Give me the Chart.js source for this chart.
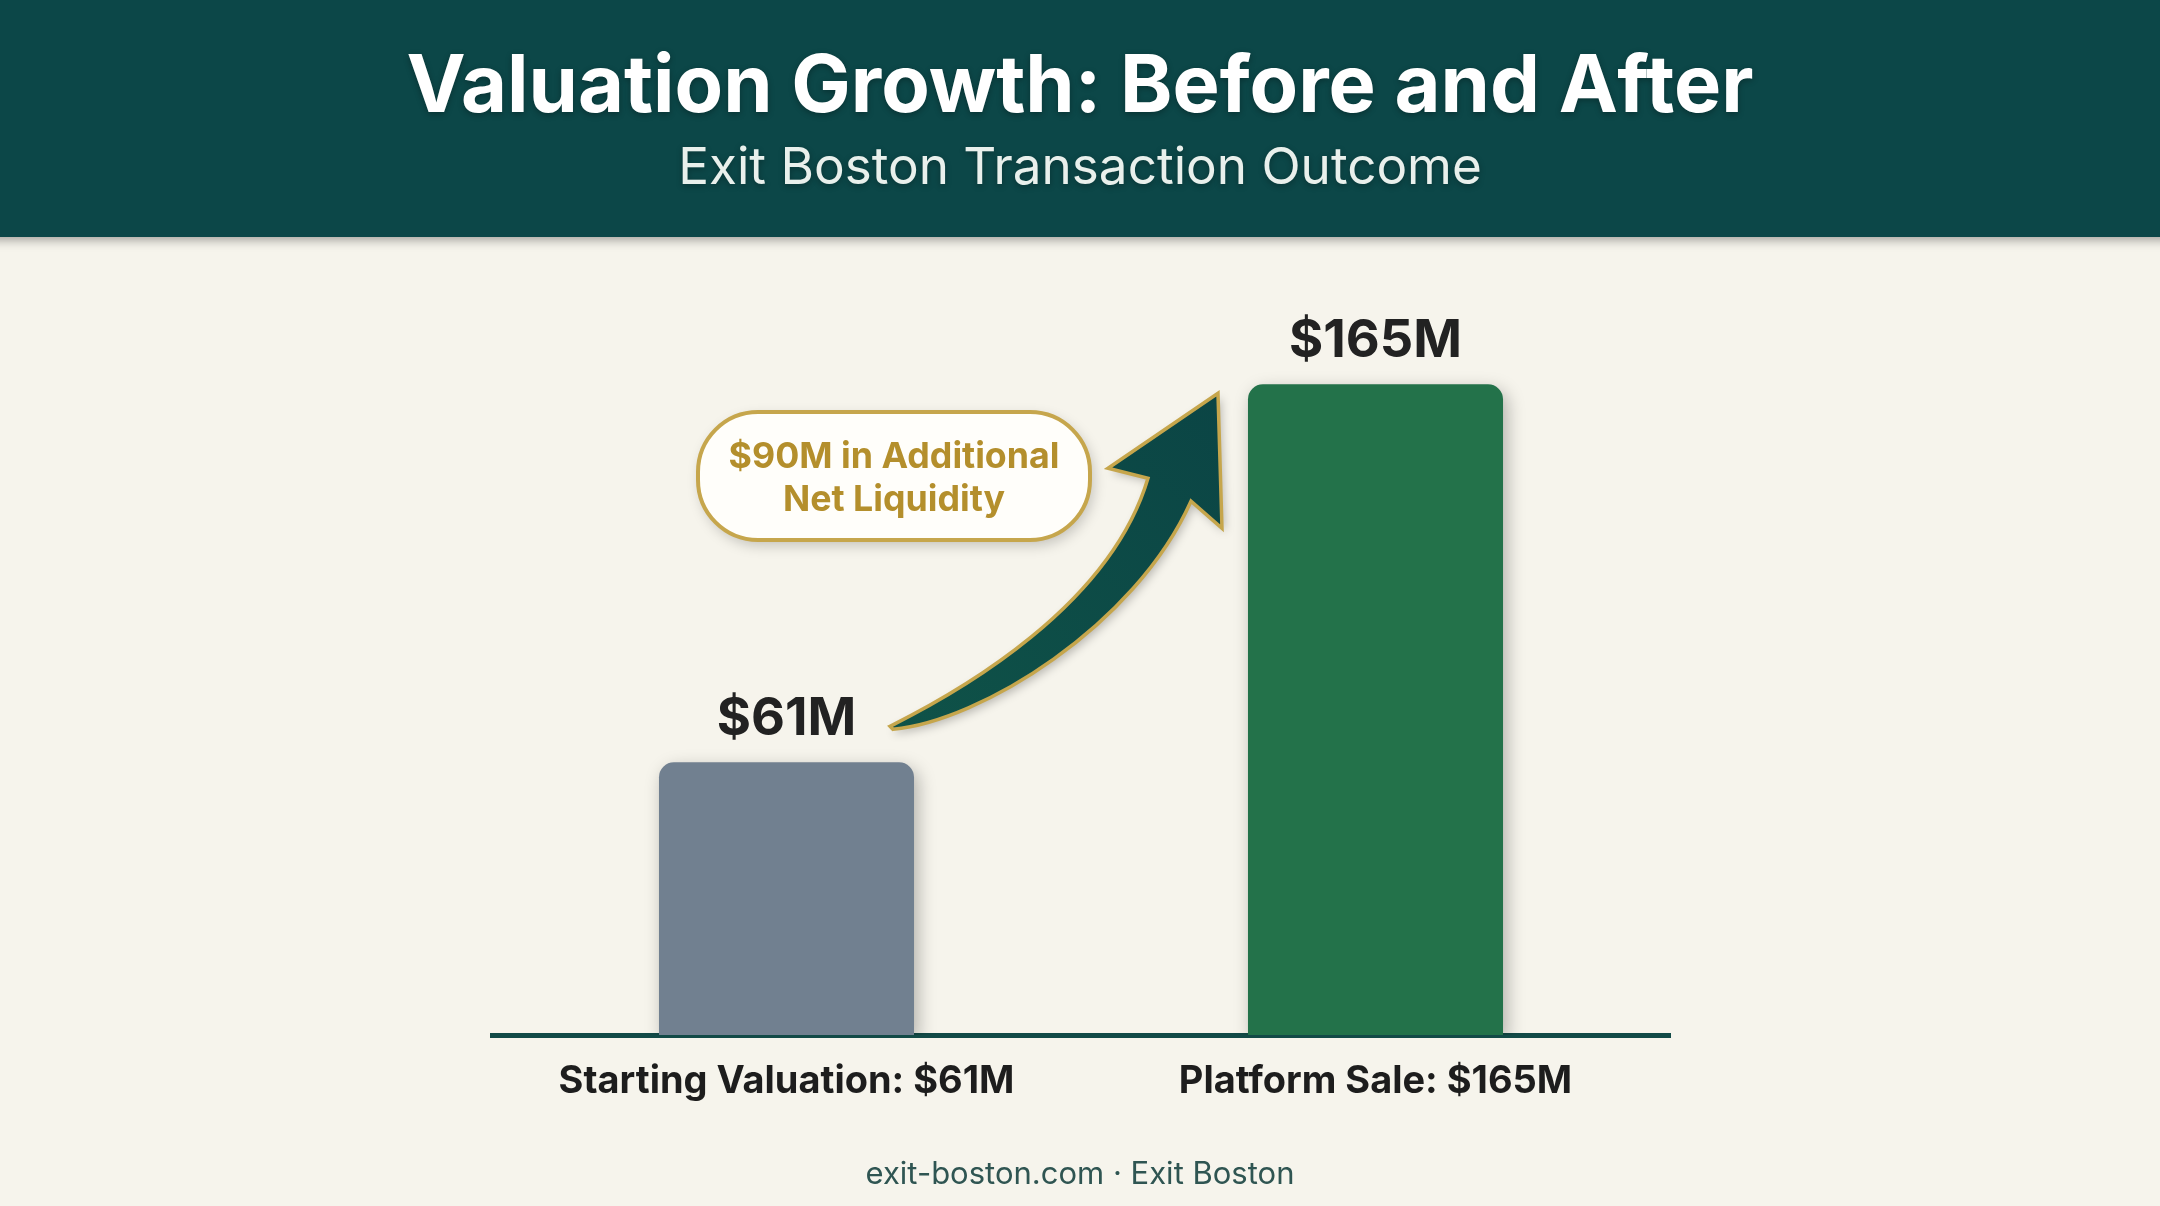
<!DOCTYPE html>
<html>
<head>
<meta charset="utf-8">
<script src="https://cdn.jsdelivr.net/npm/chart.js@4"></script>
<style>
  html, body { margin: 0; padding: 0; background: #f6f4ec; }
  #wrap { width: 2160px; height: 1206px; }
</style>
</head>
<body>
<div id="wrap"><canvas id="c" width="2160" height="1206"></canvas></div>
<script>
// ---- data ----
const categories = ['Starting Valuation: $61M', 'Platform Sale: $165M'];
const values = [61, 165];
const valueLabels = ['$61M', '$165M'];
const titleText = 'Valuation Growth: Before and After';
const subtitleText = 'Exit Boston Transaction Outcome';
const calloutLines = ['$90M in Additional', 'Net Liquidity'];
const footerText = 'exit-boston.com \u00b7 Exit Boston';

// ---- styles ----
const barColors = ['#718090', '#23724a'];
const FONT = 'Inter, "Noto Sans", sans-serif';
const yMin = -14, yMax = 200;

const mctx = document.createElement('canvas').getContext('2d');
function fit(text, weight, target) {
  mctx.font = weight + ' 100px ' + FONT;
  return 100 * target / mctx.measureText(text).width;
}
const titleSize = fit(titleText, '700', 1347);
const subSize = fit(subtitleText, '400', 804);
const valSize = fit(valueLabels[1], '700', 173);
const catSize = fit(categories[0], '700', 456);
const callSize = fit(calloutLines[0], '700', 331);
const footSize = fit(footerText, '400', 429);

const decor = {
  id: 'decor',
  beforeDraw(chart) {
    const ctx = chart.ctx;
    ctx.save();
    ctx.fillStyle = '#f6f4ec';
    ctx.fillRect(0, 0, chart.width, chart.height);
    ctx.shadowColor = 'rgba(0,0,0,0.35)';
    ctx.shadowBlur = 10;
    ctx.shadowOffsetY = 3;
    ctx.fillStyle = '#0c4748';
    ctx.fillRect(-20, -20, chart.width + 40, 257);
    ctx.restore();
    ctx.save();
    ctx.textAlign = 'center';
    ctx.textBaseline = 'alphabetic';
    ctx.shadowColor = 'rgba(0,0,0,0.3)';
    ctx.shadowBlur = 6;
    ctx.shadowOffsetY = 2;
    ctx.fillStyle = '#ffffff';
    ctx.font = '700 ' + titleSize + 'px ' + FONT;
    ctx.fillText(titleText, 1080, 112);
    ctx.fillStyle = '#e9f0ec';
    ctx.font = '400 ' + subSize + 'px ' + FONT;
    ctx.fillText(subtitleText, 1080, 184);
    ctx.restore();
    ctx.save();
    ctx.textAlign = 'center';
    ctx.fillStyle = '#2f5552';
    ctx.font = '400 ' + footSize + 'px ' + FONT;
    ctx.fillText(footerText, 1080, 1184);
    ctx.restore();
  },
  beforeDatasetsDraw(chart) {
    const ctx = chart.ctx;
    ctx.save();
    ctx.shadowColor = 'rgba(0,0,0,0.28)';
    ctx.shadowBlur = 18;
    ctx.shadowOffsetX = 4;
    ctx.shadowOffsetY = 6;
  },
  afterDatasetsDraw(chart) {
    const ctx = chart.ctx;
    ctx.restore();
    const bars = chart.getDatasetMeta(0).data;
    // value labels
    ctx.save();
    ctx.textAlign = 'center';
    ctx.fillStyle = '#222222';
    ctx.font = '700 ' + valSize + 'px ' + FONT;
    bars.forEach((b, i) => ctx.fillText(valueLabels[i], b.x, b.y - 27));
    ctx.restore();

    // curved arrow from bar 1 toward bar 2
    const b1 = bars[0], b2 = bars[1];
    const A = { x: b1.x + b1.width / 2, y: b1.y };
    const B = { x: b2.x - b2.width / 2, y: b2.y };
    const P = (o, dx, dy) => [o.x + dx, o.y + dy];
    const tail = P(A, -24, -36);
    const u1 = P(A, 46, -71), u2 = P(A, 196, -156);
    const lin = P(B, -100, 94);
    const lb = P(B, -140, 84);
    const tip = P(B, -30, 9);
    const rb = P(B, -26, 144);
    const rin = P(B, -57, 117);
    const l1 = P(A, 221, -136), l2 = P(A, 66, -41);
    const tail2 = P(A, -21, -33);
    ctx.save();
    ctx.beginPath();
    ctx.moveTo(...tail);
    ctx.bezierCurveTo(...u1, ...u2, ...lin);
    ctx.lineTo(...lb);
    ctx.lineTo(...tip);
    ctx.lineTo(...rb);
    ctx.lineTo(...rin);
    ctx.bezierCurveTo(...l1, ...l2, ...tail2);
    ctx.closePath();
    const g = ctx.createLinearGradient(tail[0], tail[1], tip[0], tip[1]);
    g.addColorStop(0, '#0f5248');
    g.addColorStop(1, '#0b4545');
    ctx.shadowColor = 'rgba(0,0,0,0.25)';
    ctx.shadowBlur = 10;
    ctx.shadowOffsetX = 3;
    ctx.shadowOffsetY = 4;
    ctx.fillStyle = g;
    ctx.fill();
    ctx.shadowColor = 'transparent';
    ctx.lineJoin = 'miter';
    ctx.lineWidth = 3.5;
    ctx.strokeStyle = '#c6a64c';
    ctx.stroke();
    ctx.restore();

    // callout pill
    const x0 = 698, y0 = 412, w = 392, h = 128, r = 60;
    ctx.save();
    ctx.beginPath();
    ctx.roundRect(x0, y0, w, h, r);
    ctx.shadowColor = 'rgba(0,0,0,0.22)';
    ctx.shadowBlur = 14;
    ctx.shadowOffsetX = 3;
    ctx.shadowOffsetY = 5;
    ctx.fillStyle = '#fffefa';
    ctx.fill();
    ctx.shadowColor = 'transparent';
    ctx.lineWidth = 4;
    ctx.strokeStyle = '#c6a64c';
    ctx.stroke();
    ctx.textAlign = 'center';
    ctx.fillStyle = '#b48f2c';
    ctx.font = '700 ' + callSize + 'px ' + FONT;
    ctx.fillText(calloutLines[0], x0 + w / 2, 468);
    ctx.fillText(calloutLines[1], x0 + w / 2, 511);
    ctx.restore();
  }
};

new Chart(document.getElementById('c'), {
  type: 'bar',
  data: {
    labels: categories,
    datasets: [{
      data: values,
      backgroundColor: barColors,
      borderRadius: { topLeft: 15, topRight: 15, bottomLeft: 0, bottomRight: 0 },
      borderSkipped: 'bottom',
      base: yMin,
      barPercentage: 0.433,
      categoryPercentage: 1
    }]
  },
  options: {
    responsive: false,
    devicePixelRatio: 1,
    animation: false,
    layout: { padding: { top: 257, left: 492, right: 490, bottom: 71 } },
    plugins: { legend: { display: false }, tooltip: { enabled: false } },
    scales: {
      y: { display: false, min: yMin, max: yMax },
      x: {
        z: 1,
        grid: { display: false, drawTicks: false },
        border: { display: true, color: '#124a47', width: 5 },
        ticks: { color: '#1d1d1d', padding: 24, font: { family: FONT, weight: 'bold', size: catSize } },
        afterFit(s) { s.height = 100; }
      }
    }
  },
  plugins: [decor]
});
</script>
</body>
</html>
